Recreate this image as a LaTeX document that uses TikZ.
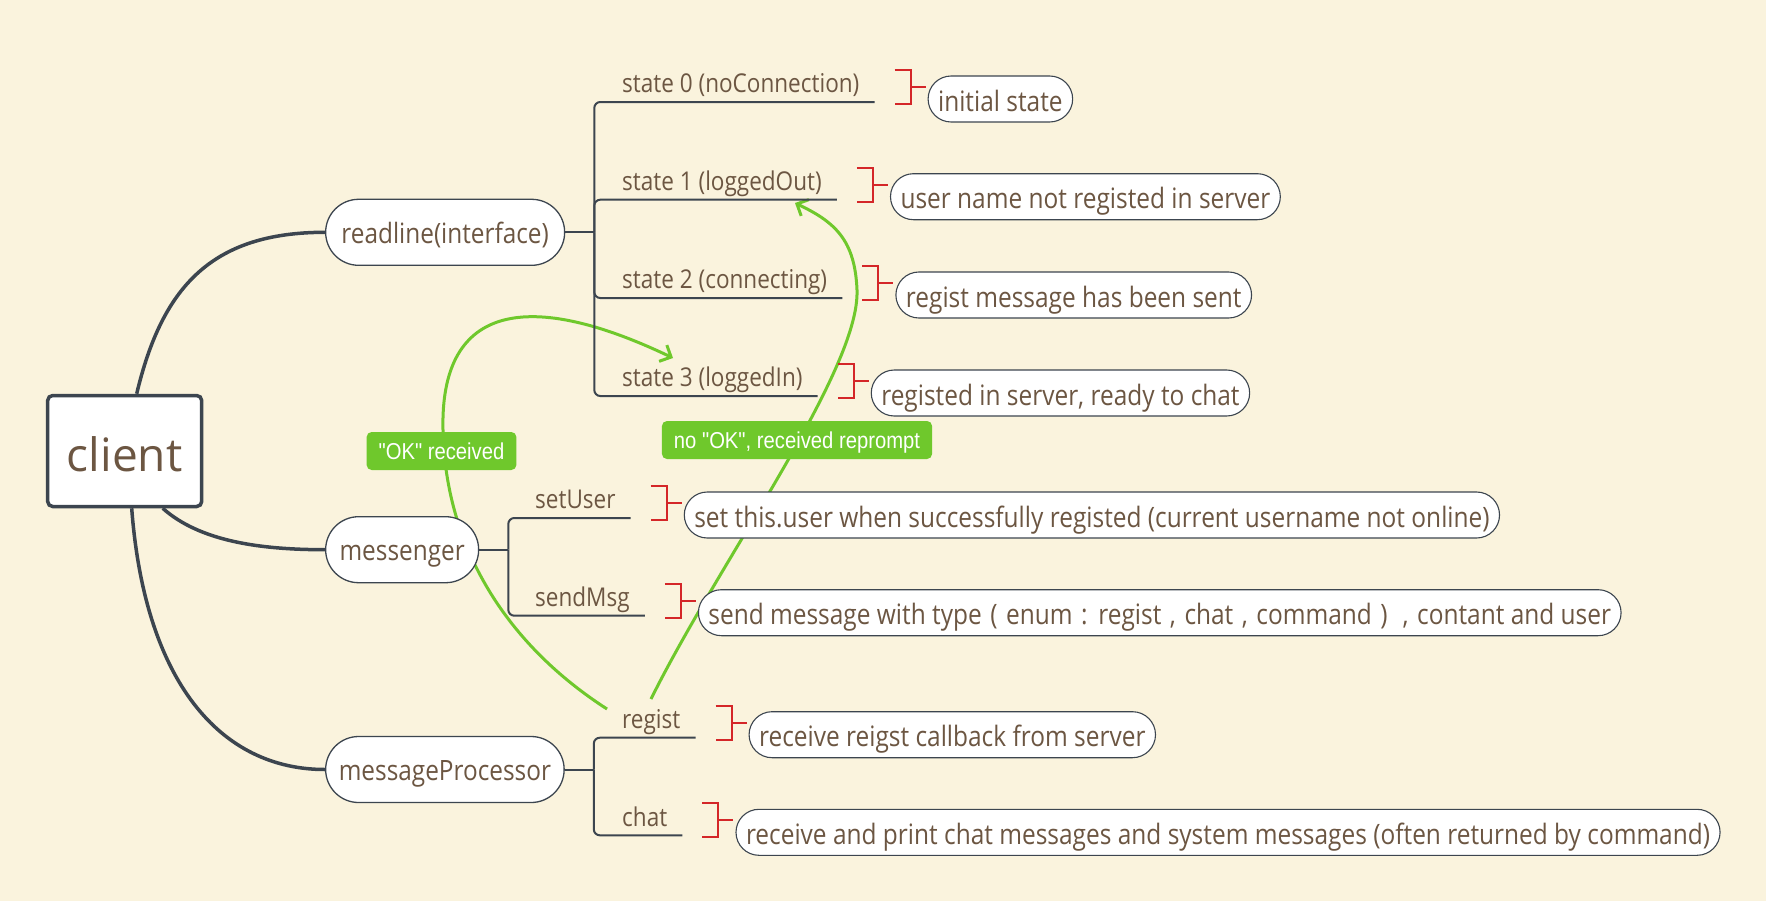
\documentclass[tikz,border=0pt]{standalone}
\usepackage{fontspec}
\setmainfont{Open Sans}
\newfontfamily\narrowfont[FakeStretch=0.87]{Open Sans}
\newfontfamily\tagfont[FakeStretch=0.88]{Liberation Sans}
\usetikzlibrary{positioning,calc,arrows.meta}

\definecolor{paper}{RGB}{250,243,221}
\definecolor{ink}{RGB}{60,69,79}
\definecolor{brown}{RGB}{108,86,66}
\definecolor{leaf}{RGB}{111,200,44}
\definecolor{bracered}{RGB}{212,38,40}

\tikzset{
  root/.style={draw=ink, line width=3.5pt, fill=white, rounded corners=5pt, minimum width=154pt, minimum height=111pt, inner sep=0pt, text=brown, font=\fontsize{46}{50}\selectfont, text height=40pt, text depth=0pt},
  topic/.style={anchor=west, draw=ink, line width=1.3pt, fill=white, rounded corners=33pt, minimum height=66pt, inner xsep=13pt, inner ysep=0pt, text=brown, font=\narrowfont\fontsize{28}{32}\selectfont, text height=22pt, text depth=0pt},
  sub/.style={anchor=south west, inner xsep=15pt, inner ysep=9pt, text depth=0pt, text=brown, font=\narrowfont\fontsize{25.9}{30}\selectfont},
  note/.style={anchor=west, draw=ink, line width=1.1pt, fill=white, rounded corners=23pt, minimum height=46pt, inner xsep=10pt, inner ysep=0pt, text height=24pt, text depth=0pt, text=brown, font=\narrowfont\fontsize{28.1}{32}\selectfont},
  trunk/.style={draw=ink, line width=3.5pt},
  branch/.style={draw=ink, line width=2pt, rounded corners=6pt},
  brace/.style={draw=bracered, line width=2pt},
  flow/.style={draw=leaf, line width=3pt, -{Straight Barb[length=9pt,width=18pt]}},
  tag/.style={fill=leaf, rounded corners=5pt, minimum height=38pt, inner xsep=12pt, inner ysep=0pt, text=white, font=\tagfont\fontsize{23}{26}\selectfont, text height=17pt, text depth=0pt}
}

% red bracket in front of a note
\newcommand\notebrace[1]{%
  \draw[brace] ($(#1.west)+(-33,-29)$) -- ++(16,0) -- ++(0,34) -- ++(-16,0);
  \draw[brace] ($(#1.west)+(-17,-12)$) -- ++(15,0);}
% wide punctuation gap
\newcommand\wsp{\hspace{2.2pt}}

\begin{document}
\begin{tikzpicture}[x=1pt,y=1pt,yscale=-1]
\useasboundingbox (0,0) rectangle (1777,907);
\fill[paper] (0,0) rectangle (1766,901);

% green flows (under the bubbles)
\coordinate (okfrom) at (607,709);
\coordinate (okto) at (673,358);
\coordinate (nofrom) at (651,699);
\coordinate (noto) at (795,203);
\draw[flow] (okfrom) .. controls (500,640) and (445,540) .. (443,430) .. controls (440,310) and (520,285) .. (okto);
\draw[flow] (nofrom) .. controls (720,560) and (860,370) .. (857,290) .. controls (855,240) and (835,222) .. (noto);

% root and topics
\node[root] (client) at (124.7,451) {client};
\node[topic, minimum width=239pt] (rl) at (325,232.3) {readline(interface)};
\node[topic, minimum width=153pt] (msg) at (325,549.7) {messenger};
\node[topic, minimum width=238.5pt] (mp) at (325,769.5) {messageProcessor};

\draw[trunk] ([xshift=12pt]client.north) .. controls +(25,-105) and +(-115,0) .. (rl.west);
\draw[trunk] ([xshift=38pt]client.south) .. controls +(37,33) and +(-65,0) .. (msg.west);
\draw[trunk] ([xshift=7pt]client.south) .. controls +(13,173) and +(-105,0) .. (mp.west);

\coordinate (rlj) at ($(rl.east)+(29,0)$);
\coordinate (msgj) at ($(msg.east)+(29,0)$);
\coordinate (mpj) at ($(mp.east)+(29,0)$);

% readline states
\node[sub] (s0) at (607,102) {state 0 (noConnection)};
\node[sub] (s1) at (607,199.7) {state 1 (loggedOut)};
\node[sub] (s2) at (607,298) {state 2 (connecting)};
\node[sub] (s3) at (607,396) {state 3 (loggedIn)};
% messenger
\node[sub] (su) at (520,518) {setUser};
\node[sub] (sm) at (520,615.7) {sendMsg};
% messageProcessor
\node[sub] (rg) at (607,737.7) {regist};
\node[sub] (ch) at (607,835.3) {chat};

\draw[branch] (rl.east) -- (rlj);
\draw[branch] (msg.east) -- (msgj);
\draw[branch] (mp.east) -- (mpj);
\foreach \s in {s0,s1,s2,s3}
  \draw[branch] (rlj) |- (\s.south east);
\foreach \s in {su,sm}
  \draw[branch] (msgj) |- (\s.south east);
\foreach \s in {rg,ch}
  \draw[branch] (mpj) |- (\s.south east);

% notes
\node[note] (n0) at ($(s0.south east)+(53,-3)$) {initial state};
\node[note] (n1) at ($(s1.south east)+(53,-3)$) {user name not registed in server};
\node[note] (n2) at ($(s2.south east)+(53,-3)$) {regist message has been sent};
\node[note] (n3) at ($(s3.south east)+(53,-3)$) {registed in server, ready to chat};
\node[note] (nu) at ($(su.south east)+(53,-3)$) {set this.user when successfully registed (current username not online)};
\node[note] (nm) at ($(sm.south east)+(53,-3)$) {send message with type\wsp{} (\wsp{} enum\wsp{} :\wsp{} regist\wsp{} ,\wsp{} chat\wsp{} ,\wsp{} command\wsp{} )\wsp{} \ ,\wsp{} contant and user};
\node[note] (nr) at ($(rg.south east)+(53,-3)$) {receive reigst callback from server};
\node[note] (nc) at ($(ch.south east)+(53,-3)$) {receive and print chat messages and system messages (often returned by command)};

\foreach \n in {n0,n1,n2,n3,nu,nm,nr,nc}
  \notebrace{\n};

% flow labels
\node[tag] (okTag) at (441.5,451) {"OK" received};
\node[tag] (noTag) at (797,440) {no "OK", received reprompt};
\end{tikzpicture}
\end{document}
